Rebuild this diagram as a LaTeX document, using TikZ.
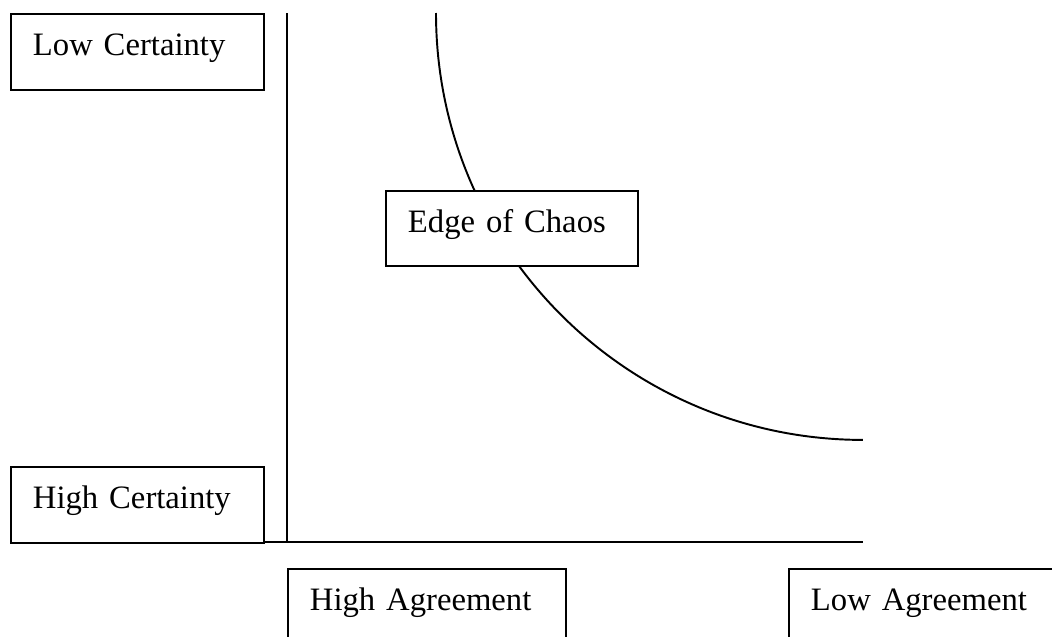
\documentclass[tikz,border=0pt]{standalone}
\usepackage{fontspec}
\setmainfont{Liberation Serif}
\usepackage{tikz}
\usetikzlibrary{positioning}

\tikzset{
    labelbox/.style={draw, line width=1.1pt, anchor=north west, align=left,
        inner xsep=0.44cm, inner ysep=0pt, text height=0.84cm, text depth=0.68cm,
        font=\fontsize{18.6}{22}\selectfont},
}

\begin{document}
\begin{tikzpicture}[x=0.02cm,y=0.02cm,line width=1.1pt]
        % page frame
        \useasboundingbox (0,0) rectangle (1052,-636);
        \clip (0,0) rectangle (1052,-636);

        % the two certainty boxes on the left
        \node[labelbox, text width=4.18cm] (lowcert)  at (10,-13)  {Low Certainty};
        \node[labelbox, text width=4.18cm] (highcert) at (10,-466) {High Certainty};

        % the two agreement boxes below the axis
        \node[labelbox, text width=4.68cm] (highagr) at (287,-568) {High Agreement};
        \node[labelbox, text width=4.68cm] (lowagr)  at (788,-568) {Low Agreement};

        % the axes
        \coordinate (ytop) at (287,-13);
        \coordinate (orig) at (287,-542);
        \coordinate (xend) at (863,-542);
        \draw (ytop) -- (orig);
        \draw (highcert.east |- orig) -- (xend);

        % the edge of chaos curve
        \coordinate (cstart) at (436,-13);
        \draw (cstart) arc[start angle=180, end angle=270, radius=8.54cm] coordinate (cend);

        % label on the curve
        \node[labelbox, fill=white, text width=4.16cm, text depth=0.66cm] (chaos) at (385,-190) {Edge of Chaos};
\end{tikzpicture}
\end{document}
